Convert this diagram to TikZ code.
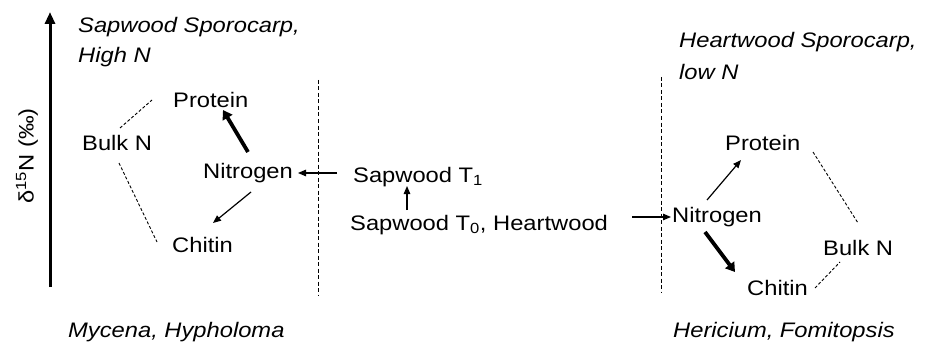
\documentclass[tikz,border=0pt]{standalone}
\usepackage{fontspec}
\setmainfont[FakeStretch=1.13]{Liberation Sans}
\usetikzlibrary{arrows.meta}
\begin{document}
\begin{tikzpicture}[x=1pt,y=-1pt,
  lbl/.style={inner sep=0pt,anchor=base west,font=\fontsize{21}{25}\selectfont},
  ital/.style={lbl,font=\fontsize{21}{25}\selectfont\itshape},
  thinarr/.style={line width=1.2pt,-{Triangle[length=8pt,width=6.5pt]}},
  thickarr/.style={line width=3.8pt,-{Triangle[length=9pt,width=11pt]}},
  dashln/.style={line width=0.9pt,dash pattern=on 3pt off 2pt},
  divider/.style={line width=1pt,dash pattern=on 4pt off 2.5pt}]
\useasboundingbox[fill=white] (0,0) rectangle (925,342);
% axis
\coordinate (axB) at (50,287);
\coordinate (axT) at (50,12);
\draw[line width=3pt,-{Triangle[length=12pt,width=10pt]}] (axB) -- (axT);
\node[inner sep=0pt,rotate=90,font=\fontsize{21}{25}\selectfont] (axl) at (27,156) {δ\textsuperscript{15}N (‰)};
% left titles
\node[ital] (t1) at (78,33) {Sapwood Sporocarp,};
\node[ital] (t2) at (78,63) {High N};
\node[ital] (t3) at (68,337) {Mycena, Hypholoma};
% left nodes
\node[lbl] (protL) at (173,107) {Protein};
\node[lbl] (bulkL) at (82,150) {Bulk N};
\node[lbl] (nitL) at (203,178) {Nitrogen};
\node[lbl] (chitL) at (172,252) {Chitin};
% center
\node[lbl] (sapT1) at (353,182) {Sapwood T\textsubscript{1}};
\node[lbl] (sapT0) at (350,230) {Sapwood T\textsubscript{0}, Heartwood};
% right titles
\node[ital] (t4) at (679,48) {Heartwood Sporocarp,};
\node[ital] (t5) at (679,80) {low N};
\node[ital] (t6) at (673,337) {Hericium, Fomitopsis};
% right nodes
\node[lbl] (protR) at (725,150) {Protein};
\node[lbl] (nitR) at (672,222) {Nitrogen};
\node[lbl] (bulkR) at (823,255) {Bulk N};
\node[lbl] (chitR) at (747,295) {Chitin};
% dividers
\coordinate (d1t) at (318,80);
\coordinate (d1b) at (318,295);
\coordinate (d2t) at (661,77);
\coordinate (d2b) at (661,292);
\draw[divider] (d1t) -- (d1b);
\draw[divider] (d2t) -- (d2b);
% left connectors
\draw[thickarr] ([shift={(45,-26)}]nitL.base west) -- ([shift={(50,3)}]protL.base west);
\draw[thinarr] ([shift={(48,14)}]nitL.base west) -- ([shift={(41,-29)}]chitL.base west);
\draw[dashln] ([shift={(38,-22)}]bulkL.base west) -- ([shift={(-21,-7)}]protL.base west);
\draw[dashln] ([shift={(37,13)}]bulkL.base west) -- ([shift={(-15,-10)}]chitL.base west);
% center connectors
\draw[thinarr] ([shift={(-16,-9)}]sapT1.base west) -- ([shift={(95,-5)}]nitL.base west);
\draw[thinarr] ([shift={(57,-20)}]sapT0.base west) -- ([shift={(54,4)}]sapT1.base west);
\draw[thinarr] ([shift={(282,-13)}]sapT0.base west) -- ([shift={(-1,-5)}]nitR.base west);
% right connectors
\draw[thinarr] ([shift={(35,-22)}]nitR.base west) -- ([shift={(16,10)}]protR.base west);
\draw[thickarr] ([shift={(33,10)}]nitR.base west) -- ([shift={(-12,-23)}]chitR.base west);
\draw[dashln] ([shift={(88,2)}]protR.base west) -- ([shift={(35,-32)}]bulkR.base west);
\draw[dashln] ([shift={(68,-7)}]chitR.base west) -- ([shift={(17,7)}]bulkR.base west);
\end{tikzpicture}
\end{document}
